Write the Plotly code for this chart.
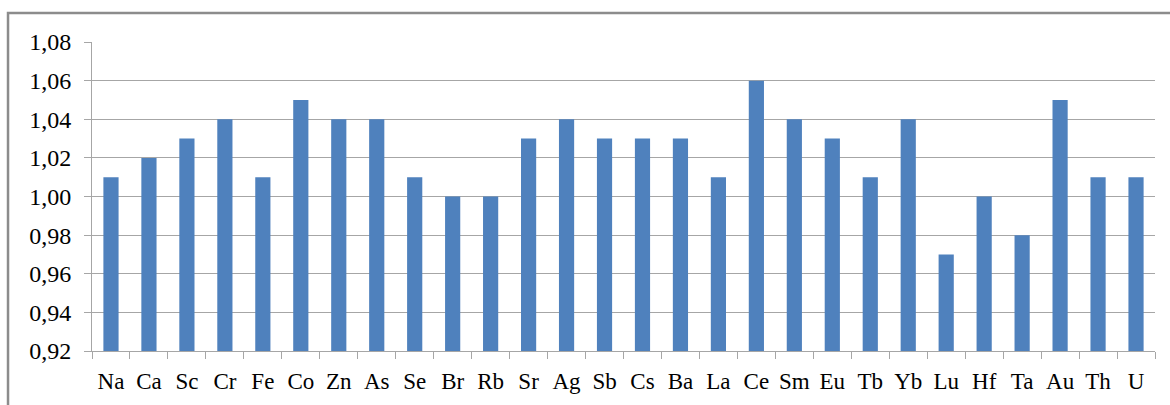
import plotly.graph_objects as go

elements = ["Na", "Ca", "Sc", "Cr", "Fe", "Co", "Zn", "As", "Se", "Br", "Rb", "Sr", "Ag", "Sb",
            "Cs", "Ba", "La", "Ce", "Sm", "Eu", "Tb", "Yb", "Lu", "Hf", "Ta", "Au", "Th", "U"]
ratios = [1.01, 1.02, 1.03, 1.04, 1.01, 1.05, 1.04, 1.04, 1.01, 1.00, 1.00, 1.03, 1.04, 1.03,
          1.03, 1.03, 1.01, 1.06, 1.04, 1.03, 1.01, 1.04, 0.97, 1.00, 0.98, 1.05, 1.01, 1.01]
y_ticks = [0.92, 0.94, 0.96, 0.98, 1.00, 1.02, 1.04, 1.06, 1.08]
y_floor = y_ticks[0]

grid = "#A6A6A6"
font_family = "Liberation Serif"

# bars rise from the axis floor to each ratio
fig = go.Figure(go.Bar(
    x=elements,
    y=[v - y_floor for v in ratios],
    base=y_floor,
    marker=dict(color="#4F81BD", line=dict(width=0)),
))

fig.update_layout(
    width=1170, height=405,
    margin=dict(l=92, r=15, t=42, b=54),
    paper_bgcolor="white", plot_bgcolor="white",
    separators=", ",
    bargap=0.6,
    showlegend=False,
    font=dict(family=font_family, color="black"),
    shapes=[dict(type="rect", xref="paper", yref="paper",
                 x0=-0.079, x1=1.2, y0=-0.5, y1=1.094,
                 line=dict(color="#8C8C8C", width=2.5), layer="below")],
)
fig.update_xaxes(
    type="category",
    tickangle=0,
    tickfont=dict(size=23, family=font_family, color="black"),
    ticklabelstandoff=9,
    showline=True, linecolor=grid, linewidth=1,
    ticks="outside", tickson="boundaries", ticklen=7, tickcolor=grid,
    showgrid=False,
)
fig.update_yaxes(
    range=[0.92, 1.08], tickvals=y_ticks, tickformat=".2f",
    tickfont=dict(size=24, family=font_family, color="black"),
    ticklabelstandoff=8,
    showline=True, linecolor=grid, linewidth=1,
    ticks="outside", ticklen=7, tickcolor=grid,
    showgrid=True, gridcolor=grid, gridwidth=1,
    zeroline=False,
)

fig.write_html("out.html")
